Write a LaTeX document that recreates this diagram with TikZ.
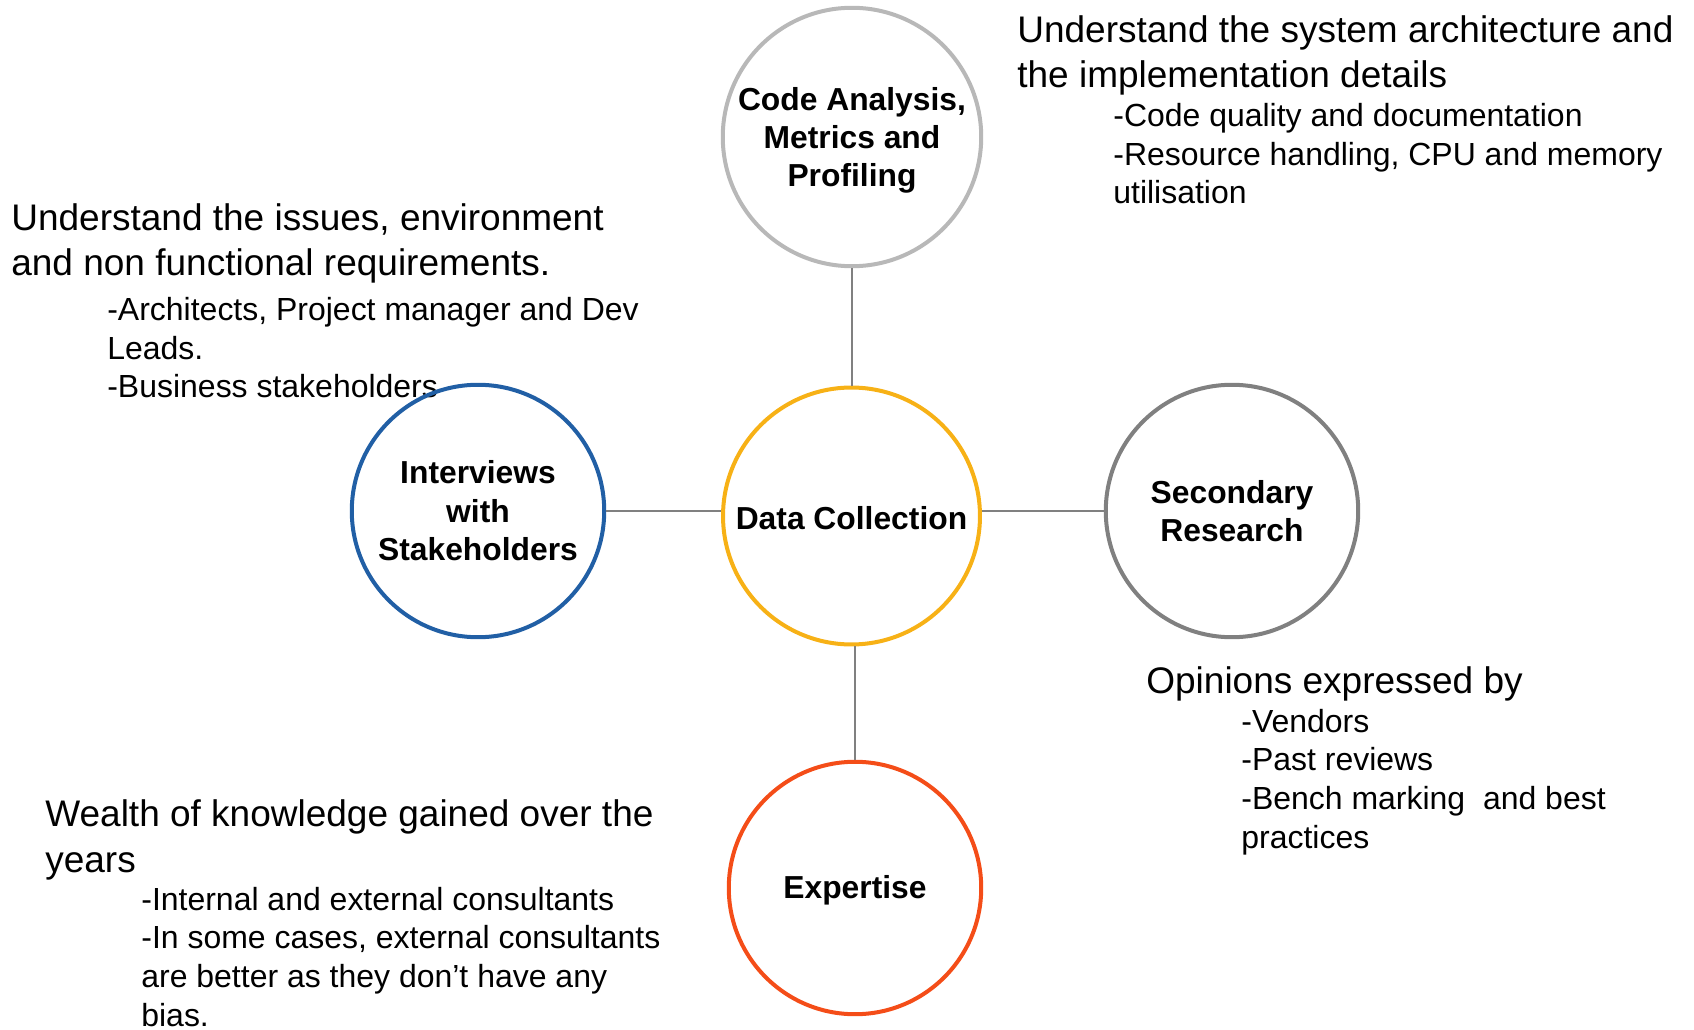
\documentclass[tikz,border=0pt]{standalone}
\usepackage{fontspec}
\setmainfont{Liberation Sans}
\definecolor{ringyellow}{RGB}{247,177,22}
\definecolor{ringlight}{RGB}{184,184,184}
\definecolor{ringblue}{RGB}{33,95,165}
\definecolor{ringgray}{RGB}{128,128,128}
\definecolor{ringorange}{RGB}{244,77,24}
\definecolor{linkgray}{RGB}{128,128,128}
\begin{document}
\begin{tikzpicture}[
	x=0.02cm, y=-0.02cm,
	hub/.style={circle, draw, line width=2.28pt, inner sep=+0pt, align=center, font=\fontsize{18.1}{21.85}\selectfont\bfseries},
	note/.style={anchor=base west, inner sep=+0pt, align=left, font=\fontsize{21.06}{25.8}\selectfont},
	notelist/.style={anchor=base west, inner sep=+0pt, align=left, font=\fontsize{18.2}{22}\selectfont},
	link/.style={draw=linkgray, line width=1.14pt}
]
\useasboundingbox (0,0) rectangle (1694,1030);
\node[note] (CAn) at (1017,88) {Understand the system architecture and\\the implementation details};
\node[notelist] (CAl) at (1113,204) {-Code quality and documentation\\-Resource handling, CPU and memory\\utilisation};
\node[note] (ISn) at (11,276) {Understand the issues, environment\\and non functional requirements.};
\node[notelist] (ISl) at (107,398) {-Architects, Project manager and Dev\\Leads.\\-Business stakeholders};
\node[note] (SRn) at (1146,693) {Opinions expressed by};
\node[notelist] (SRl) at (1241,848) {-Vendors\\-Past reviews\\-Bench marking\ \ and best\\practices};
\node[note] (EXn) at (45,872) {Wealth of knowledge gained over the\\years};
\node[notelist] (EXl) at (141,1026) {-Internal and external consultants\\-In some cases, external consultants\\are better as they don’t have any\\bias.};
\node[hub, draw=ringyellow, minimum size=5.14cm] (DC) at (851.5,516) {\rule{0pt}{15pt}Data Collection};
\node[hub, draw=ringlight, minimum size=5.17cm] (CA) at (852,137) {\rule{0pt}{17pt}Code Analysis,\\Metrics and\\Profiling};
\node[hub, draw=ringblue, minimum size=5.05cm] (IS) at (478,511) {Interviews\\with\\Stakeholders};
\node[hub, draw=ringgray, minimum size=5.05cm] (SR) at (1232,511) {Secondary\\Research};
\node[hub, draw=ringorange, minimum size=5.05cm] (EX) at (855,888) {\rule{0pt}{16pt}Expertise};
\draw[link] (CA) -- (CA |- DC.north);
\draw[link] (IS) -- (IS -| DC.west);
\draw[link] (DC.east |- SR) -- (SR);
\draw[link] (EX |- DC.south) -- (EX);
\end{tikzpicture}
\end{document}
